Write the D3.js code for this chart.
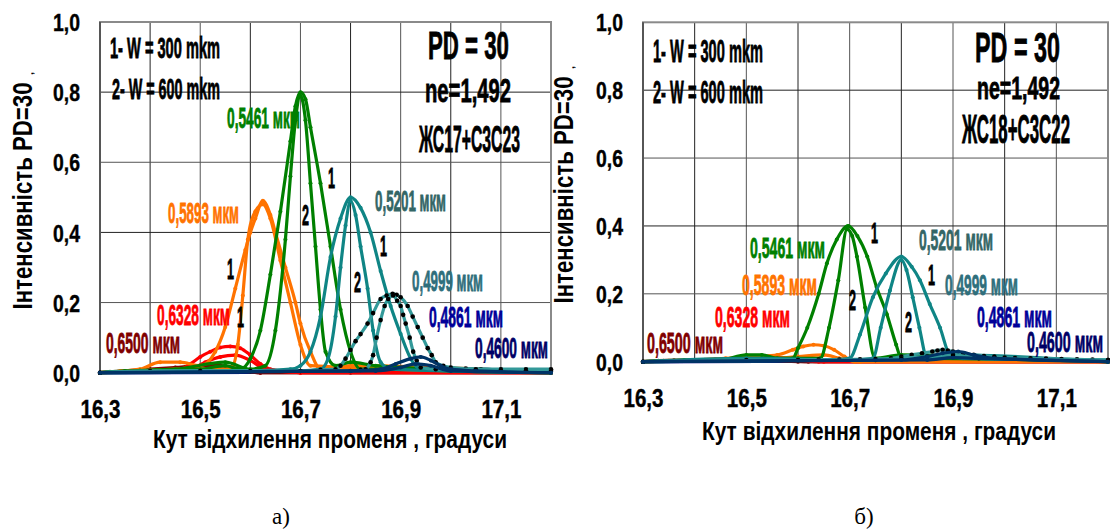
<!DOCTYPE html>
<html lang="uk">
<head>
<meta charset="UTF-8">
<title>Інтенсивність PD=30</title>
<style>
  body { margin: 0; background: #fff; }
  svg text { font-family: "Liberation Sans", Arial, sans-serif; font-weight: bold; }
</style>
</head>
<body>
<script src="https://d3js.org/d3.v7.min.js"></script>
<script>
// ---------- data ----------
var angleTicks = [16.3, 16.5, 16.7, 16.9, 17.1];
var intensityTicks = [0, 0.2, 0.4, 0.6, 0.8, 1.0];
var wavelengths = ["0,6500", "0,6328", "0,5893", "0,5461", "0,5201", "0,4999", "0,4861", "0,4600"];

// panel a)  ЖС17+С3С23   (_1 : W = 300 mkm, _2 : W = 600 mkm)  [angle, intensity]
var a6500_1 = [[16.30,0],[16.35,0.005],[16.40,0.01],[16.45,0.015],[16.50,0.02],[16.54,0.02],[16.58,0.01],[16.62,0],[16.8,0],[17.2,0]];
var a6500_2 = [[16.30,0],[16.33,0.003],[16.36,0.004],[16.40,0.005],[16.44,0.008],[16.48,0.01],[16.52,0.01],[16.55,0.01],[16.62,0],[17.2,0]];
var a6328_1 = [[16.30,0],[16.40,0.005],[16.46,0.01],[16.48,0.025],[16.50,0.045],[16.52,0.06],[16.54,0.072],[16.56,0.075],[16.58,0.07],[16.60,0.05],[16.62,0.025],[16.64,0.01],[16.70,0],[17.2,0]];
var a6328_2 = [[16.30,0],[16.48,0.01],[16.51,0.03],[16.54,0.045],[16.57,0.05],[16.60,0.035],[16.63,0.01],[16.70,0],[17.2,0]];
var a5893_1 = [[16.30,0],[16.38,0.01],[16.42,0.03],[16.46,0.03],[16.50,0.02],[16.53,0.06],[16.55,0.13],[16.57,0.24],[16.59,0.35],[16.60,0.40],[16.61,0.44],[16.625,0.49],[16.64,0.45],[16.65,0.40],[16.67,0.30],[16.69,0.20],[16.70,0.14],[16.72,0.06],[16.74,0.01],[16.80,0.02],[17.2,0]];
var a5893_2 = [[16.30,0],[16.34,0.004],[16.38,0.006],[16.42,0.008],[16.45,0.01],[16.50,0.01],[16.55,0.01],[16.565,0.02],[16.575,0.08],[16.585,0.22],[16.595,0.38],[16.61,0.46],[16.625,0.48],[16.64,0.44],[16.66,0.32],[16.68,0.20],[16.70,0.08],[16.72,0.02],[17.2,0]];
var a5461_1 = [[16.30,0],[16.40,0.005],[16.50,0.01],[16.55,0.02],[16.58,0.01],[16.60,0.04],[16.62,0.12],[16.64,0.28],[16.66,0.46],[16.68,0.66],[16.69,0.76],[16.70,0.80],[16.71,0.78],[16.72,0.70],[16.74,0.54],[16.76,0.36],[16.78,0.18],[16.80,0.06],[16.82,0.01],[16.90,0.01],[17.0,0.005],[17.2,0]];
var a5461_2 = [[16.30,0],[16.32,0.003],[16.35,0.005],[16.38,0.006],[16.41,0.008],[16.45,0.01],[16.55,0.03],[16.60,0.01],[16.63,0.02],[16.65,0.12],[16.67,0.38],[16.68,0.56],[16.69,0.72],[16.70,0.79],[16.71,0.72],[16.72,0.54],[16.73,0.36],[16.74,0.18],[16.75,0.06],[16.77,0.02],[16.80,0.03],[16.85,0.02],[17.2,0]];
var a5201_1 = [[16.30,0],[16.60,0.005],[16.68,0.01],[16.70,0.02],[16.72,0.06],[16.74,0.16],[16.76,0.33],[16.78,0.44],[16.80,0.50],[16.82,0.47],[16.84,0.40],[16.86,0.29],[16.88,0.19],[16.90,0.11],[16.92,0.04],[16.94,0.01],[17.0,0.01],[17.2,0.005]];
var a5201_2 = [[16.30,0],[16.70,0.005],[16.74,0.01],[16.755,0.04],[16.77,0.16],[16.78,0.30],[16.79,0.42],[16.80,0.49],[16.81,0.45],[16.82,0.36],[16.834,0.24],[16.845,0.12],[16.86,0.03],[16.88,0.01],[17.2,0]];
var a4999_1 = [[16.30,0],[16.40,0.005],[16.50,0.005],[16.60,0.005],[16.70,0.005],[16.74,0.008],[16.77,0.01],[16.78,0.02],[16.79,0.04],[16.80,0.065],[16.81,0.09],[16.82,0.11],[16.834,0.14],[16.845,0.17],[16.86,0.21],[16.872,0.22],[16.884,0.225],[16.892,0.222],[16.90,0.215],[16.914,0.19],[16.924,0.16],[16.934,0.13],[16.944,0.10],[16.954,0.07],[16.962,0.05],[16.97,0.03],[16.985,0.02],[17.0,0.015],[17.03,0.012],[17.06,0.01],[17.1,0.01],[17.15,0.01],[17.2,0.01]];
var a4999_2 = [[16.30,0],[16.50,0.005],[16.60,0.005],[16.70,0.005],[16.80,0.005],[16.82,0.008],[16.83,0.01],[16.84,0.03],[16.845,0.05],[16.852,0.10],[16.86,0.15],[16.868,0.19],[16.875,0.21],[16.885,0.22],[16.893,0.205],[16.90,0.19],[16.905,0.165],[16.91,0.14],[16.918,0.10],[16.925,0.06],[16.932,0.035],[16.94,0.015],[16.97,0.01],[17.0,0.01],[17.05,0.01],[17.1,0.008],[17.15,0.006],[17.2,0.005]];
var a4861_1 = [[16.30,0],[16.80,0.005],[16.86,0.01],[16.89,0.025],[16.92,0.04],[16.94,0.045],[16.96,0.035],[16.98,0.02],[17.0,0.01],[17.05,0.005],[17.2,0]];
var a4861_2 = [[16.30,0],[16.85,0.005],[16.90,0.015],[16.93,0.025],[16.96,0.02],[17.0,0.005],[17.2,0]];
var a4600_1 = [[16.30,0],[16.90,0.002],[16.95,0.005],[17.0,0.008],[17.05,0.01],[17.1,0.008],[17.2,0.005]];
var a4600_2 = [[16.30,0],[16.95,0.002],[17.05,0.005],[17.2,0.003]];

// panel б)  ЖС18+С3С22
var b6500_1 = [[16.30,0],[16.33,0.003],[16.36,0.004],[16.40,0.005],[16.44,0.007],[16.48,0.008],[16.55,0.005],[16.60,0],[17.2,0]];
var b6500_2 = [[16.30,0],[16.45,0.004],[16.55,0.004],[16.62,0],[17.2,0]];
var b6328_1 = [[16.30,0],[16.45,0.005],[16.52,0.01],[16.56,0.012],[16.60,0.008],[16.65,0],[17.2,0]];
var b6328_2 = [[16.30,0],[16.50,0.005],[16.58,0.008],[16.64,0],[17.2,0]];
var b5893_1 = [[16.30,0],[16.40,0.005],[16.46,0.01],[16.52,0.015],[16.56,0.02],[16.59,0.035],[16.61,0.045],[16.63,0.05],[16.65,0.047],[16.67,0.035],[16.69,0.015],[16.71,0],[17.2,0]];
var b5893_2 = [[16.30,0],[16.35,0.003],[16.40,0.004],[16.45,0.005],[16.50,0.01],[16.55,0.01],[16.60,0.015],[16.65,0.02],[16.68,0.01],[16.72,0],[17.2,0]];
var b5461_1 = [[16.30,0],[16.45,0.005],[16.50,0.02],[16.53,0.02],[16.56,0.01],[16.59,0.01],[16.60,0.04],[16.618,0.10],[16.64,0.20],[16.656,0.29],[16.675,0.36],[16.697,0.40],[16.715,0.37],[16.734,0.31],[16.752,0.22],[16.772,0.14],[16.79,0.05],[16.80,0.01],[16.85,0.01],[17.2,0]];
var b5461_2 = [[16.30,0],[16.34,0.003],[16.38,0.005],[16.42,0.006],[16.46,0.008],[16.50,0.01],[16.60,0.01],[16.643,0.01],[16.66,0.10],[16.678,0.24],[16.695,0.39],[16.705,0.37],[16.714,0.31],[16.73,0.16],[16.749,0.01],[16.80,0.02],[17.2,0]];
var b5201_1 = [[16.30,0],[16.65,0.005],[16.70,0.01],[16.72,0.08],[16.745,0.19],[16.77,0.26],[16.80,0.31],[16.82,0.28],[16.836,0.24],[16.855,0.17],[16.875,0.10],[16.894,0.02],[16.92,0.01],[17.2,0.005]];
var b5201_2 = [[16.30,0],[16.50,0.01],[16.70,0.005],[16.745,0.01],[16.76,0.10],[16.778,0.21],[16.80,0.30],[16.81,0.27],[16.822,0.19],[16.835,0.10],[16.85,0.01],[16.90,0.02],[17.2,0]];
var b4999_1 = [[16.30,0],[16.50,0.005],[16.60,0.005],[16.64,0.006],[16.68,0.006],[16.72,0.007],[16.75,0.008],[16.78,0.01],[16.80,0.015],[16.82,0.02],[16.84,0.025],[16.86,0.03],[16.87,0.033],[16.88,0.035],[16.89,0.033],[16.90,0.03],[16.92,0.025],[16.94,0.02],[16.96,0.017],[16.98,0.015],[17.0,0.012],[17.02,0.011],[17.05,0.01],[17.08,0.009],[17.11,0.008],[17.14,0.007],[17.17,0.006],[17.2,0.005]];
var b4999_2 = [[16.30,0],[16.60,0.004],[16.75,0.005],[16.80,0.01],[16.85,0.015],[16.90,0.02],[16.95,0.01],[17.2,0.005]];
var b4861_1 = [[16.30,0],[16.80,0.005],[16.85,0.015],[16.88,0.025],[16.91,0.03],[16.94,0.02],[16.98,0.01],[17.2,0]];
var b4861_2 = [[16.30,0],[16.85,0.005],[16.90,0.012],[16.95,0.01],[17.2,0]];
var b4600_1 = [[16.30,0],[16.90,0.003],[17.0,0.006],[17.1,0.005],[17.2,0.003]];
var b4600_2 = [[16.30,0],[17.0,0.003],[17.2,0.002]];

// ---------- styles ----------
var lineColor = {"0,6500": "#800000", "0,6328": "#ff0000", "0,5893": "#ff7300", "0,5461": "#008000",
                 "0,5201": "#0f8585", "0,4999": "#339999", "0,4861": "#003366", "0,4600": "#000080"};
var textColor = {"0,6500": "#800000", "0,6328": "#ff0000", "0,5893": "#ff7300", "0,5461": "#008000",
                 "0,5201": "#336666", "0,4999": "#2f6f7c", "0,4861": "#000099", "0,4600": "#000066"};

var seriesA = [
    ["0,4600", a4600_1, a4600_2], ["0,6500", a6500_1, a6500_2], ["0,6328", a6328_1, a6328_2],
    ["0,5893", a5893_1, a5893_2], ["0,5461", a5461_1, a5461_2], ["0,5201", a5201_1, a5201_2],
    ["0,4999", a4999_1, a4999_2], ["0,4861", a4861_1, a4861_2]
];
var seriesB = [
    ["0,4600", b4600_1, b4600_2], ["0,6500", b6500_1, b6500_2], ["0,6328", b6328_1, b6328_2],
    ["0,5893", b5893_1, b5893_2], ["0,5461", b5461_1, b5461_2], ["0,5201", b5201_1, b5201_2],
    ["0,4999", b4999_1, b4999_2], ["0,4861", b4861_1, b4861_2]
];

var svg = d3.select("body").append("svg")
    .attr("width", 1110)
    .attr("height", 531);

// condensed heavy text: squeeze into the measured width and thicken with a thin stroke
function txt(g, s, x, y, w, size, color) {
    return g.append("text")
        .attr("x", x).attr("y", y)
        .attr("font-size", size)
        .attr("fill", color || "#000")
        .attr("stroke", color || "#000").attr("stroke-width", 0.8)
        .attr("textLength", w)
        .attr("lengthAdjust", "spacingAndGlyphs")
        .text(s);
}

function drawPanel(p) {
    var g = svg.append("g");
    var x = d3.scaleLinear().domain([16.3, 17.2]).range([p.left, p.right]);
    var y = d3.scaleLinear().domain([0, 1]).range([p.bottom, p.top]);

    // grid
    g.selectAll(".vg").data(x.ticks(9).slice(1, -1)).enter().append("line")
        .attr("x1", d => x(d)).attr("x2", d => x(d))
        .attr("y1", p.top).attr("y2", p.bottom)
        .attr("stroke", (d, i) => i % 2 ? "#555" : "#222").attr("stroke-width", 1);
    g.selectAll(".hg").data(intensityTicks.slice(1, -1)).enter().append("line")
        .attr("x1", p.left).attr("x2", p.right)
        .attr("y1", d => y(d)).attr("y2", d => y(d))
        .attr("stroke", (d, i) => i % 2 ? "#222" : "#555").attr("stroke-width", 1);
    g.append("rect")
        .attr("x", p.left).attr("y", p.top)
        .attr("width", p.right - p.left).attr("height", p.bottom - p.top)
        .attr("fill", "none").attr("stroke", "#8a8a8a").attr("stroke-width", 2);
    g.append("line").attr("x1", p.left).attr("x2", p.left).attr("y1", p.top).attr("y2", p.bottom)
        .attr("stroke", "#444").attr("stroke-width", 1.5);

    // axes
    var xa = g.append("g").attr("transform", "translate(0," + p.bottom + ")")
        .call(d3.axisBottom(x).tickValues(angleTicks).tickSize(0)
            .tickFormat(d => d3.format(".1f")(d).replace(".", ",")));
    xa.select(".domain").remove();
    xa.selectAll("text").attr("y", p.xTickY).attr("dy", null)
        .attr("font-size", 25).attr("fill", "#000")
        .attr("stroke", "#000").attr("stroke-width", 0.4)
        .attr("textLength", 40).attr("lengthAdjust", "spacingAndGlyphs");
    var ya = g.append("g").attr("transform", "translate(" + p.left + ",0)")
        .call(d3.axisLeft(y).tickValues(intensityTicks).tickSize(0)
            .tickFormat(d => d3.format(".1f")(d).replace(".", ",")));
    ya.select(".domain").remove();
    ya.selectAll("text").attr("x", -20).attr("dy", "0.36em")
        .attr("font-size", 24).attr("fill", "#000")
        .attr("stroke", "#000").attr("stroke-width", 0.4)
        .attr("textLength", 27).attr("lengthAdjust", "spacingAndGlyphs");

    g.append("text").attr("x", p.xTitleX).attr("y", p.xTitleY)
        .attr("text-anchor", "middle").attr("font-size", 25)
        .attr("textLength", 354).attr("lengthAdjust", "spacingAndGlyphs")
        .text("Кут відхилення променя , градуси");
    g.append("text").attr("transform", "translate(" + p.yTitleX + "," + p.yTitleY + ") rotate(-90)")
        .attr("text-anchor", "middle").attr("font-size", 27)
        .attr("textLength", 227).attr("lengthAdjust", "spacingAndGlyphs")
        .text("Інтенсивність PD=30");
    g.append("text").attr("transform", "translate(" + (p.yTitleX + 1) + "," + (p.yTitleY - 121) + ") rotate(-90)")
        .attr("font-size", 11).text(",");

    // curves
    var line = d3.line().x(d => x(d[0])).y(d => y(d[1])).curve(d3.curveMonotoneX);
    var plot = g.append("g");
    p.series.forEach(function (s) {
        var c = lineColor[s[0]];
        [s[1], s[2]].forEach(function (pts) {
            plot.append("path").datum(pts)
                .attr("d", line).attr("fill", "none")
                .attr("stroke", c).attr("stroke-width", 3.2)
                .attr("stroke-linejoin", "round");
            plot.selectAll(null).data(pts).enter().append("circle")
                .attr("cx", d => x(d[0])).attr("cy", d => y(d[1]))
                .attr("r", s[0] === "0,4999" ? 2.3 : 2)
                .attr("fill", s[0] === "0,4999" ? "#000" : c);
        });
    });

    // annotations
    p.notes.forEach(n => txt(g, n[0], n[1], n[2], n[3], n[4], n[5]));
    p.waveLabels.forEach(n => txt(g, wavelengths[n[0]] + " мкм", n[1], n[2], n[3], 29, textColor[wavelengths[n[0]]]));
    p.curveNums.forEach(n => txt(g, n[0], n[1], n[2], 7, 30, "#000"));

    g.append("text").attr("x", p.capX).attr("y", 524)
        .attr("text-anchor", "middle").attr("font-size", 23)
        .style("font-family", "'Liberation Serif', 'Times New Roman', serif")
        .style("font-weight", "normal")
        .text(p.caption);
}

drawPanel({
    left: 100, right: 551, top: 22, bottom: 372.7,
    xTickY: 45, xTitleX: 330, xTitleY: 448, yTitleX: 32, yTitleY: 196,
    series: seriesA, caption: "а)", capX: 281,
    notes: [["1- W = 300 mkm", 110, 58, 110, 30], ["2- W = 600 mkm", 112, 99, 108, 30],
            ["PD = 30", 428, 59, 81, 39], ["ne=1,492", 425, 102, 86, 34], ["ЖС17+С3С23", 419, 152, 101, 36]],
    waveLabels: [[3, 227, 128, 73], [2, 168, 223, 71], [1, 157, 325, 73], [0, 106, 353, 74],
                 [4, 375, 211, 71], [5, 412, 291, 71], [6, 429, 327, 74], [7, 475, 358, 73]],
    curveNums: [["1", 328, 188], ["2", 302, 225], ["1", 227, 279], ["1", 237, 327], ["1", 380, 256], ["2", 354, 292]]
});

drawPanel({
    left: 643, right: 1108, top: 22.3, bottom: 361.7,
    xTickY: 45, xTitleX: 879, xTitleY: 440, yTitleX: 573, yTitleY: 190,
    series: seriesB, caption: "б)", capX: 864,
    notes: [["1- W = 300 mkm", 653, 62, 110, 31], ["2- W = 600 mkm", 653, 103, 110, 31],
            ["PD = 30", 975, 62, 85, 42], ["ne=1,492", 977, 99, 83, 32], ["ЖС18+С3С22", 962, 143, 108, 40]],
    waveLabels: [[3, 750, 258, 75], [2, 742, 295, 75], [1, 715, 327, 75], [0, 647, 353, 76],
                 [4, 919, 250, 74], [5, 945, 295, 73], [6, 977, 327, 75], [7, 1027, 352, 76]],
    curveNums: [["1", 871, 243], ["2", 849, 310], ["1", 928, 285], ["2", 905, 332]]
});
</script>
</body>
</html>
